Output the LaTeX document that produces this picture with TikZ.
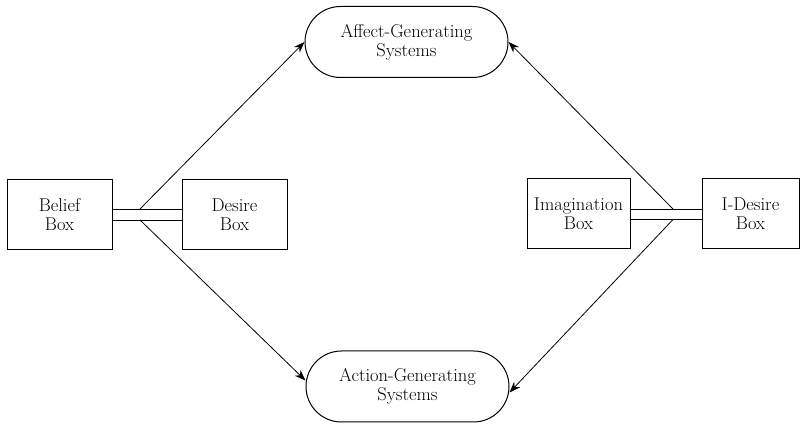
\documentclass[tikz,border=0pt]{standalone}
\usetikzlibrary{arrows.meta,shapes.misc}

\begin{document}
\begin{tikzpicture}[x=1pt, y=1pt]
                \tikzset{boxnode/.style={draw, line width=1pt, minimum height=70pt, align=center,
                inner sep=2pt, font=\fontsize{18.5}{19}\selectfont},
                sysnode/.style={boxnode, rounded rectangle, minimum width=207pt, minimum height=71pt},
                feed/.style={line width=.8pt, -{Stealth[length=11pt, width=8pt]}}}

                \useasboundingbox (0,0) rectangle (800,425);

                \node[boxnode, minimum width=105pt] (belief) at (59.5,210.5) {Belief\\Box};
                \node[boxnode, minimum width=105pt] (desire) at (234.5,210.5) {Desire\\Box};
                \node[boxnode, minimum width=103pt] (imagination) at (578.5,211) {Imagination\\Box};
                \node[boxnode, minimum width=97pt] (idesire) at (750.5,211) {I-Desire\\Box};

                \node[sysnode] (affect) at (406.5,383) {Affect-Generating\\Systems};
                \node[sysnode] (action) at (407.5,38.5) {Action-Generating\\Systems};

                % double links between the boxes
                \draw[line width=.8pt] ([yshift=5.5pt]belief.east) -- ([yshift=5.5pt]desire.west)
                    ([yshift=-5.5pt]belief.east) -- ([yshift=-5.5pt]desire.west);
                \draw[line width=.8pt] ([yshift=5pt]imagination.east) -- ([yshift=5pt]idesire.west)
                    ([yshift=-5.5pt]imagination.east) -- ([yshift=-5.5pt]idesire.west);

                \coordinate (lup) at (140,216);
                \coordinate (ldown) at (140,205);
                \coordinate (rup) at (673,216);
                \coordinate (rdown) at (673,205.5);

                \draw[feed] (lup) -- (affect.west);
                \draw[feed] (ldown) -- ([yshift=6pt]action.west);
                \draw[feed] (rup) -- (affect.east);
                \draw[feed] (rdown) -- ([yshift=-6pt]action.east);
            \end{tikzpicture}
\end{document}
